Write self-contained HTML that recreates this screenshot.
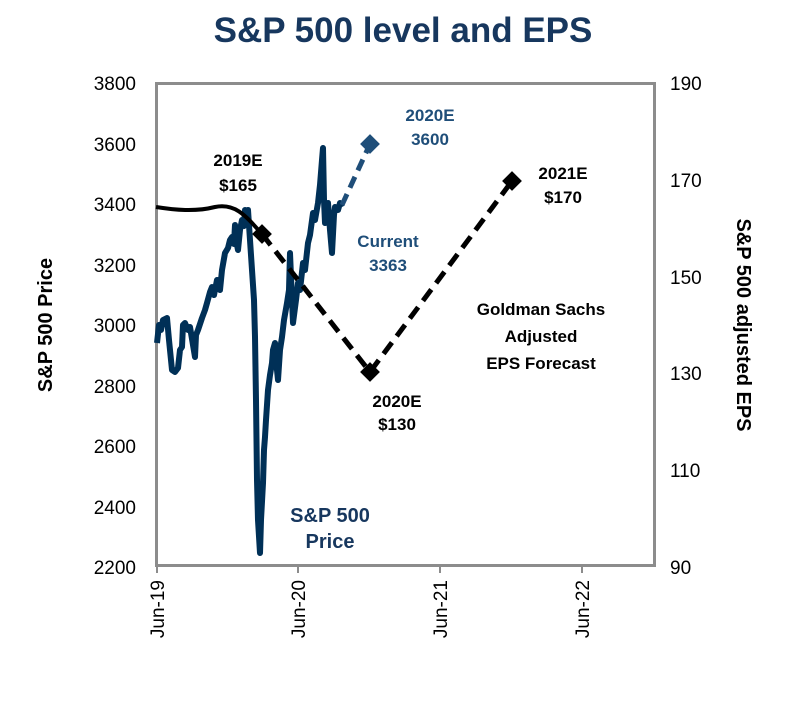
<!DOCTYPE html>
<html><head><style>
body{margin:0;background:#fff;}
svg text{font-family:"Liberation Sans",Arial,sans-serif;}
</style></head><body>
<svg width="806" height="698" viewBox="0 0 806 698" xmlns="http://www.w3.org/2000/svg">
<rect width="806" height="698" fill="#fff"/>
<text x="403" y="42" text-anchor="middle" font-size="35" font-weight="bold" fill="#17375e">S&amp;P 500 level and EPS</text>
<rect x="156.5" y="83.5" width="498" height="482" fill="none" stroke="#8c8c8c" stroke-width="3"/>
<g font-size="19" fill="#000" text-anchor="end">
<text x="136" y="90">3800</text><text x="136" y="151">3600</text><text x="136" y="211">3400</text><text x="136" y="272">3200</text><text x="136" y="332">3000</text><text x="136" y="393">2800</text><text x="136" y="453">2600</text><text x="136" y="514">2400</text><text x="136" y="574">2200</text>
</g>
<g font-size="19" fill="#000">
<text x="670" y="90">190</text><text x="670" y="187">170</text><text x="670" y="284">150</text><text x="670" y="380">130</text><text x="670" y="477">110</text><text x="670" y="574">90</text>
</g>
<g stroke="#8c8c8c" stroke-width="2">
<line x1="157" y1="566" x2="157" y2="573"/><line x1="298" y1="566" x2="298" y2="573"/><line x1="440" y1="566" x2="440" y2="573"/><line x1="582" y1="566" x2="582" y2="573"/>
</g>
<g font-size="19" fill="#000" text-anchor="end">
<text transform="translate(164,580) rotate(-90)">Jun-19</text>
<text transform="translate(305,580) rotate(-90)">Jun-20</text>
<text transform="translate(447,580) rotate(-90)">Jun-21</text>
<text transform="translate(589,580) rotate(-90)">Jun-22</text>
</g>
<text transform="translate(52,325) rotate(-90)" text-anchor="middle" font-size="20" font-weight="bold">S&amp;P 500 Price</text>
<text transform="translate(737,325) rotate(90)" text-anchor="middle" font-size="20" font-weight="bold">S&amp;P 500 adjusted EPS</text>
<polyline fill="none" stroke="#003057" stroke-width="6" stroke-linejoin="round" points="157,343 159,325 161,330 163,320 167,318 169,340 171,360 172,370 175,372 178,368 180,350 182,347 183,325 185,323 188,330 190,327 193,345 195,357 196,335 198,330 202,318 205,310 207,303 210,292 212,287 214,295 217,280 219,284 220,290 222,270 225,253 228,248 230,240 232,237 234,244 235,225 237,245 238,250 240,230 242,220 244,226 245,210 247,225 248,210 250,240 252,270 254,300 255,337 256,400 257,480 258,520 260,553 261,520 263,483 264,450 265,437 266,420 268,390 270,375 272,363 273,350 275,343 277,370 278,380 280,350 282,337 284,320 287,303 289,290 290,253 292,300 293,323 296,300 298,283 300,290 303,263 305,270 308,243 310,235 313,213 315,220 318,203 320,185 322,160 323,148 324,200 325,223 327,210 328,203 330,230 332,253 334,215 335,207 338,210 340,203 342,207"/>
<line x1="342" y1="205" x2="370" y2="144" stroke="#1f4e79" stroke-width="5" stroke-dasharray="12,7"/>
<rect x="363" y="137" width="14" height="14" fill="#1f4e79" transform="rotate(45 370 144)"/>
<path d="M156,207 C175,210 195,212 215,207 C235,203 245,215 262,234" fill="none" stroke="#000" stroke-width="4"/>
<polyline points="262,234 370,372 512,181" fill="none" stroke="#000" stroke-width="5" stroke-dasharray="14,8"/>
<rect x="255" y="227" width="14" height="14" fill="#000" transform="rotate(45 262 234)"/>
<rect x="363" y="365" width="14" height="14" fill="#000" transform="rotate(45 370 372)"/>
<rect x="505" y="174" width="14" height="14" fill="#000" transform="rotate(45 512 181)"/>
<g font-size="17" font-weight="bold" text-anchor="middle">
<text x="238" y="166">2019E</text><text x="238" y="191">$165</text>
<text x="397" y="407">2020E</text><text x="397" y="430">$130</text>
<text x="563" y="179">2021E</text><text x="563" y="203">$170</text>
<text x="541" y="315">Goldman Sachs</text><text x="541" y="342">Adjusted</text><text x="541" y="369">EPS Forecast</text>
</g>
<g font-size="17" font-weight="bold" text-anchor="middle" fill="#1f4e79">
<text x="430" y="121">2020E</text><text x="430" y="145">3600</text>
<text x="388" y="247">Current</text><text x="388" y="271">3363</text>
</g>
<g font-size="20" font-weight="bold" text-anchor="middle" fill="#17375e">
<text x="330" y="522">S&amp;P 500</text><text x="330" y="548">Price</text>
</g>
</svg>
</body></html>
